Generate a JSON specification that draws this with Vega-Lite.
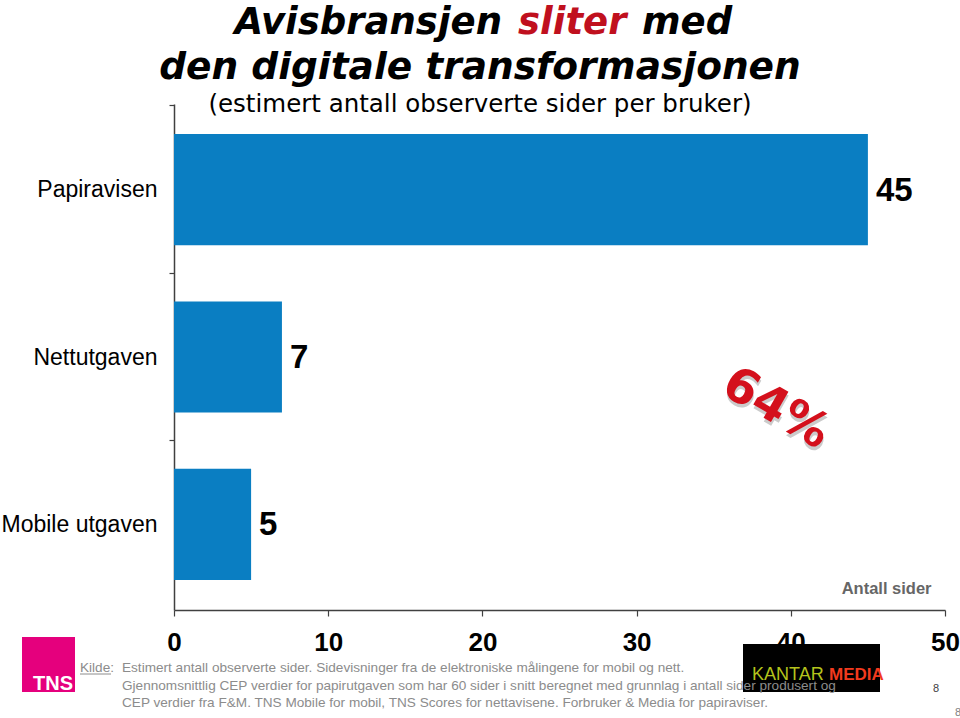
{
  "$schema": "https://vega.github.io/schema/vega-lite/v6.json",
  "width": 771,
  "height": 506,
  "autosize": {"type": "none"},
  "padding": {"left": 174, "top": 104, "right": 15, "bottom": 108},
  "background": "white",
  "config": {"view": {"stroke": null}, "font": "Liberation Sans"},
  "data": {"values": [
    {"k": "Papiravisen", "v": 45},
    {"k": "Nettutgaven", "v": 7},
    {"k": "Mobile utgaven", "v": 5}
  ]},
  "layer": [
    {
      "mark": {"type": "bar", "color": "#0A7EC2"},
      "encoding": {
        "y": {"field": "k", "type": "nominal", "sort": null,
          "scale": {"paddingInner": 0.336, "paddingOuter": 0.18},
          "axis": {"title": null, "labelFontSize": 23, "labelColor": "#000", "labelFont": "Liberation Sans",
            "labelPadding": 12, "tickSize": 5, "tickOffset": -84.33, "labelOffset": 84.33,
            "domainColor": "#404040", "domainWidth": 1.5, "tickColor": "#404040", "tickWidth": 1.2}},
        "x": {"field": "v", "type": "quantitative",
          "scale": {"domain": [0, 50], "nice": false},
          "axis": {"values": [0, 10, 20, 30, 40, 50], "grid": false, "title": "Antall sider",
            "titleFontSize": 16.5, "titleFontWeight": "bold", "titleColor": "#666666", "titleAlign": "right",
            "titleAnchor": null, "titleX": 757, "titleY": -22, "titleBaseline": "middle",
            "labelFontSize": 26, "labelFontWeight": "bold", "labelColor": "#000", "labelPadding": 13,
            "labelFlush": false, "tickSize": 6, "domainColor": "#404040", "domainWidth": 1.5,
            "tickColor": "#404040", "tickWidth": 1.2}}
      }
    },
    {
      "mark": {"type": "text", "align": "left", "baseline": "middle", "dx": 8, "dy": 1, "fontSize": 33, "fontWeight": "bold", "color": "#000"},
      "encoding": {
        "y": {"field": "k", "type": "nominal", "sort": null},
        "x": {"field": "v", "type": "quantitative"},
        "text": {"field": "v"}
      }
    },
    {
      "data": {"values": [{"t": "Avisbransjen"}]},
      "mark": {"type": "text", "align": "right", "baseline": "alphabetic", "font": "DejaVu Sans", "fontSize": 37, "fontWeight": "bold", "fontStyle": "italic", "color": "#000"},
      "encoding": {"x": {"value": 328}, "y": {"value": -70}, "text": {"field": "t"}}
    },
    {
      "data": {"values": [{"t": "sliter"}]},
      "mark": {"type": "text", "align": "left", "baseline": "alphabetic", "font": "DejaVu Sans", "fontSize": 37, "fontWeight": "bold", "fontStyle": "italic", "color": "#C0101E"},
      "encoding": {"x": {"value": 344}, "y": {"value": -70}, "text": {"field": "t"}}
    },
    {
      "data": {"values": [{"t": "med"}]},
      "mark": {"type": "text", "align": "left", "baseline": "alphabetic", "font": "DejaVu Sans", "fontSize": 37, "fontWeight": "bold", "fontStyle": "italic", "color": "#000"},
      "encoding": {"x": {"value": 468}, "y": {"value": -70}, "text": {"field": "t"}}
    },
    {
      "data": {"values": [{"t": "den digitale transformasjonen"}]},
      "mark": {"type": "text", "align": "center", "baseline": "alphabetic", "font": "DejaVu Sans", "fontSize": 37.5, "fontWeight": "bold", "fontStyle": "italic", "color": "#000"},
      "encoding": {"x": {"value": 306}, "y": {"value": -25}, "text": {"field": "t"}}
    },
    {
      "data": {"values": [{"t": "(estimert antall observerte sider per bruker)"}]},
      "mark": {"type": "text", "align": "center", "baseline": "alphabetic", "font": "DejaVu Sans", "fontSize": 24.5, "color": "#000"},
      "encoding": {"x": {"value": 306}, "y": {"value": 8}, "text": {"field": "t"}}
    },
    {
      "data": {"values": [{"t": "64%"}]},
      "mark": {"type": "text", "align": "center", "baseline": "middle", "font": "DejaVu Sans", "fontSize": 48, "fontWeight": "bold", "angle": 30, "color": "#999999", "opacity": 0.5, "dx": 2, "dy": 3},
      "encoding": {"x": {"value": 602}, "y": {"value": 305}, "text": {"field": "t"}}
    },
    {
      "data": {"values": [{"t": "64%"}]},
      "mark": {"type": "text", "align": "center", "baseline": "middle", "font": "DejaVu Sans", "fontSize": 48, "fontWeight": "bold", "angle": 30, "color": "#D4101C"},
      "encoding": {"x": {"value": 602}, "y": {"value": 305}, "text": {"field": "t"}}
    },
    {
      "data": {"values": [{"n": "TNS"}]},
      "mark": {"type": "rect", "color": "#E5007D"},
      "encoding": {"x": {"value": -152}, "x2": {"value": -99}, "y": {"value": 533}, "y2": {"value": 588}}
    },
    {
      "data": {"values": [{"t": "TNS"}]},
      "mark": {"type": "text", "align": "right", "baseline": "alphabetic", "font": "Liberation Sans", "fontSize": 20, "fontWeight": "bold", "color": "#ffffff"},
      "encoding": {"x": {"value": -101}, "y": {"value": 586}, "text": {"field": "t"}}
    },
    {
      "data": {"values": [{"n": "Kantar"}]},
      "mark": {"type": "rect", "color": "#000000"},
      "encoding": {"x": {"value": 569}, "x2": {"value": 706}, "y": {"value": 540}, "y2": {"value": 588}}
    },
    {
      "data": {"values": [{"t": "KANTAR"}]},
      "mark": {"type": "text", "align": "left", "baseline": "alphabetic", "font": "Liberation Sans", "fontSize": 18, "color": "#B4C31C"},
      "encoding": {"x": {"value": 578}, "y": {"value": 576}, "text": {"field": "t"}}
    },
    {
      "data": {"values": [{"t": "MEDIA"}]},
      "mark": {"type": "text", "align": "left", "baseline": "alphabetic", "font": "Liberation Sans", "fontSize": 17, "fontWeight": "bold", "color": "#F23A1E"},
      "encoding": {"x": {"value": 655}, "y": {"value": 576}, "text": {"field": "t"}}
    },
    {
      "data": {"values": [{"t": "Kilde:"}]},
      "mark": {"type": "text", "align": "left", "baseline": "alphabetic", "font": "Liberation Sans", "fontSize": 13.6, "color": "#8C8C8C"},
      "encoding": {"x": {"value": -94}, "y": {"value": 568}, "text": {"field": "t"}}
    },
    {
      "data": {"values": [{"n": "u"}]},
      "mark": {"type": "rule", "color": "#8C8C8C", "strokeWidth": 1},
      "encoding": {"x": {"value": -94}, "x2": {"value": -63}, "y": {"value": 570}}
    },
    {
      "data": {"values": [{"t": "Estimert antall observerte sider. Sidevisninger fra de elektroniske målingene for mobil og nett."}]},
      "mark": {"type": "text", "align": "left", "baseline": "alphabetic", "font": "Liberation Sans", "fontSize": 13.6, "color": "#8C8C8C"},
      "encoding": {"x": {"value": -52}, "y": {"value": 568}, "text": {"field": "t"}}
    },
    {
      "data": {"values": [{"t": "Gjennomsnittlig CEP verdier for papirutgaven som har 60 sider i snitt beregnet med grunnlag i antall sider produsert  og"}]},
      "mark": {"type": "text", "align": "left", "baseline": "alphabetic", "font": "Liberation Sans", "fontSize": 13.6, "color": "#8C8C8C"},
      "encoding": {"x": {"value": -52}, "y": {"value": 586}, "text": {"field": "t"}}
    },
    {
      "data": {"values": [{"t": "CEP verdier fra F&M. TNS Mobile for mobil, TNS Scores for nettavisene. Forbruker & Media for papiraviser."}]},
      "mark": {"type": "text", "align": "left", "baseline": "alphabetic", "font": "Liberation Sans", "fontSize": 13.6, "color": "#8C8C8C"},
      "encoding": {"x": {"value": -52}, "y": {"value": 603}, "text": {"field": "t"}}
    },
    {
      "data": {"values": [{"t": "8"}]},
      "mark": {"type": "text", "align": "left", "baseline": "alphabetic", "fontSize": 11, "color": "#404040"},
      "encoding": {"x": {"value": 759}, "y": {"value": 588}, "text": {"field": "t"}}
    },
    {
      "data": {"values": [{"t": "8"}]},
      "mark": {"type": "text", "align": "left", "baseline": "alphabetic", "fontSize": 11, "color": "#808080"},
      "encoding": {"x": {"value": 781}, "y": {"value": 612}, "text": {"field": "t"}}
    }
  ]
}
